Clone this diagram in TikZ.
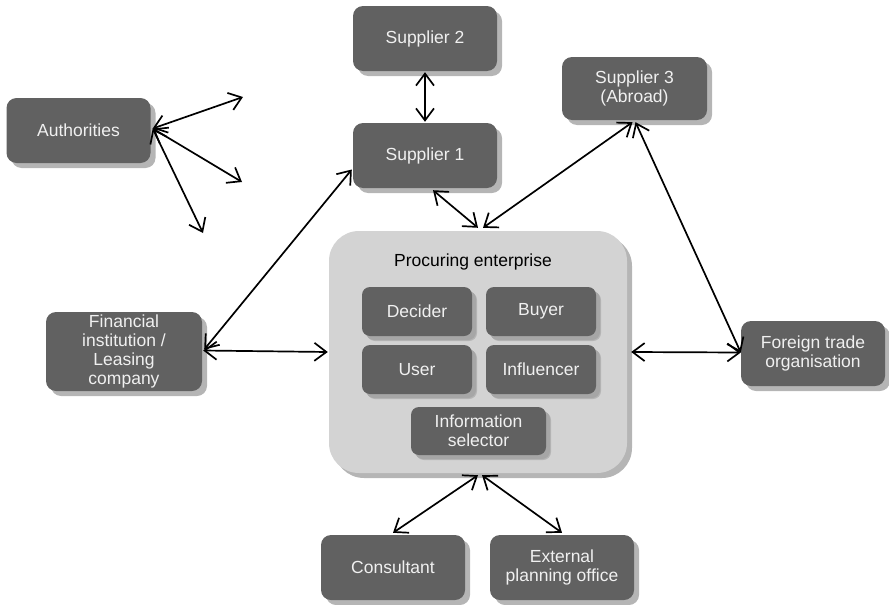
\documentclass[tikz,border=0pt]{standalone}
\usepackage{fontspec}
\setmainfont{Liberation Sans}
\usetikzlibrary{arrows.meta,shadows,calc}
\definecolor{boxgray}{HTML}{616161}
\definecolor{shadowgray}{HTML}{B5B5B5}
\definecolor{innershadow}{HTML}{A6A6A6}
\definecolor{panelgray}{HTML}{D3D3D3}
\definecolor{labelwhite}{HTML}{F0F0F0}
\tikzset{
  actor/.style={rectangle, rounded corners=10pt, fill=boxgray, text=labelwhite,
    align=center, font=\fontsize{17.5}{19}\selectfont, inner sep=0pt,
    minimum width=144pt, minimum height=65pt,
    general shadow={shadow xshift=5pt, shadow yshift=-5pt, fill=shadowgray}},
  role/.style={actor, minimum width=110pt, minimum height=49pt, rounded corners=8pt,
    general shadow={shadow xshift=4pt, shadow yshift=-4pt, fill=innershadow}},
  panel/.style={rectangle, rounded corners=30pt, fill=panelgray,
    minimum width=298pt, minimum height=242pt, inner sep=0pt,
    general shadow={shadow xshift=5pt, shadow yshift=-5pt, fill=shadowgray}},
  link/.style={line width=1.7pt, {Straight Barb[length=12pt,width=18pt]}-{Straight Barb[length=12pt,width=18pt]}}
}
\begin{document}
\begin{tikzpicture}[x=1pt,y=-1pt]
  \useasboundingbox (0,0) rectangle (889,605);

  % procuring enterprise and its buying centre roles
  \node[panel] (ent) at (478,352) {};
  \node[font=\fontsize{17.5}{19}\selectfont, text=black] (enttitle) at (473,262) {Procuring enterprise};
  \node[role] (decider) at (417,311.5) {Decider};
  \node[role] (buyer) at (541,311.5) {Buyer};
  \node[role] (user) at (417,369.5) {User};
  \node[role] (infl) at (541,369.5) {Influencer};
  \node[role, minimum width=135pt, minimum height=48pt] (infosel) at (478.5,431) {Information\\selector};

  % external parties
  \node[actor] (s2) at (425,38.5) {Supplier 2};
  \node[actor] (s1) at (425,155.5) {Supplier 1};
  \node[actor, minimum width=145pt, minimum height=63pt] (s3) at (634.5,88.5) {Supplier 3\\(Abroad)};
  \node[actor] (auth) at (78.5,130.5) {Authorities};
  \node[actor, minimum width=156pt, minimum height=79pt] (fin) at (124,351.5) {Financial\\institution /\\Leasing\\company};
  \node[actor] (ft) at (813,353.5) {Foreign trade\\organisation};
  \node[actor] (cons) at (393,567.5) {Consultant};
  \node[actor] (ext) at (562,567.5) {External\\planning office};

  % open ends of the authorities' links
  \coordinate (a1) at (243,97);
  \coordinate (a2) at (242,182);
  \coordinate (a3) at (203,233);

  % relations
  \draw[link] ($(auth.east)+(2,-2)$) -- (a1);
  \draw[link] ($(auth.east)+(2,-2)$) -- (a2);
  \draw[link] ($(auth.east)+(2,-2)$) -- (a3);
  \draw[link] ($(s2.south)+(0,1)$) -- ($(s1.north)+(0,-1)$);
  \draw[link] ($(s1.south)+(8,2)$) -- ($(ent.north)+(0,-3)$);
  \draw[link] ($(s3.south)+(-2,2)$) -- ($(ent.north)+(5,-3)$);
  \draw[link] ($(s3.south)+(1,2)$) -- ($(ft.west)+(0,-1)$);
  \draw[link] ($(ent.east)+(4,0)$) -- ($(ft.west)+(0,-1)$);
  \draw[link] ($(fin.east)+(1,-1)$) -- ($(ent.west)+(-1,0)$);
  \draw[link] ($(fin.east)+(2,-2)$) -- ($(s1.west)+(-1,14)$);
  \draw[link] ($(ent.south)+(0,2)$) -- ($(cons.north)+(0,-2)$);
  \draw[link] ($(ent.south)+(4,2)$) -- ($(ext.north)+(0,-2)$);
\end{tikzpicture}
\end{document}
